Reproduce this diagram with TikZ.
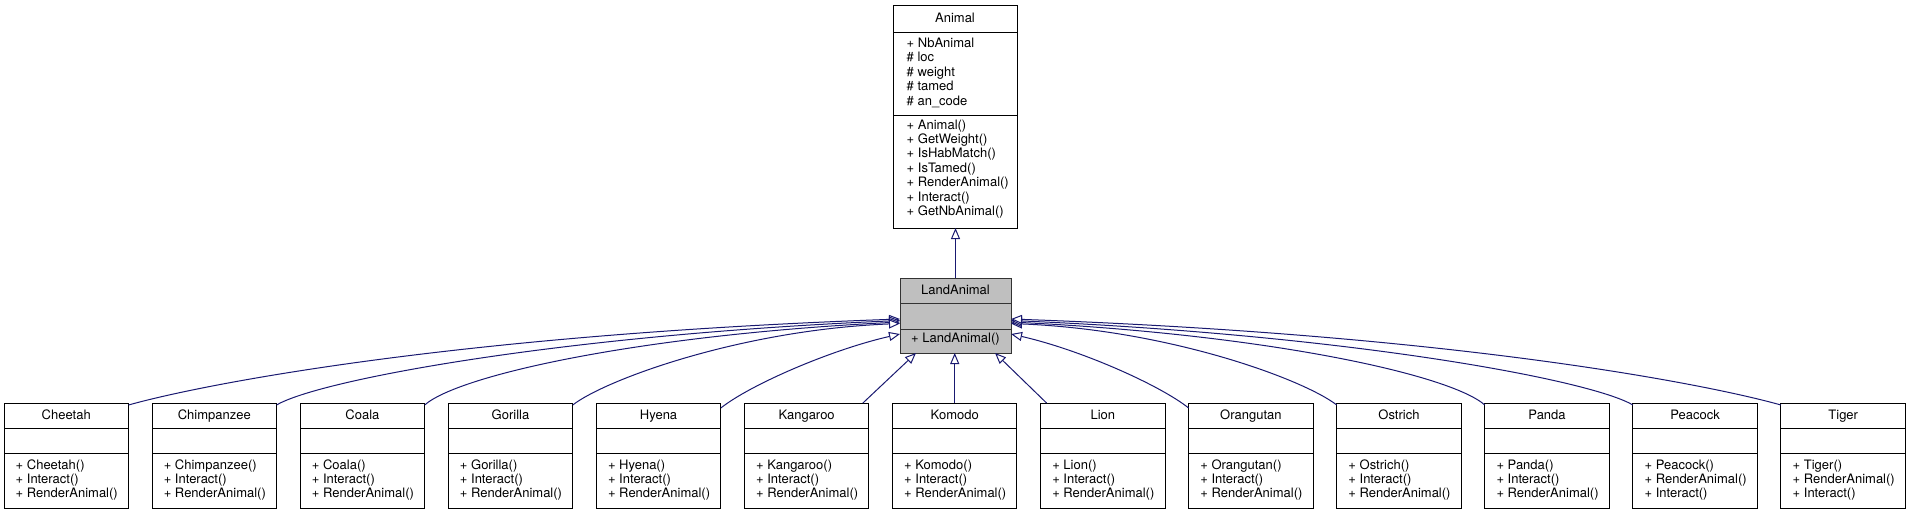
\documentclass[tikz,border=0pt]{standalone}
\usepackage{fontspec}
\setmainfont{TeX Gyre Heros}
\usetikzlibrary{arrows.meta,calc}
\definecolor{edgeblue}{HTML}{191970}
\definecolor{landgray}{HTML}{BFBFBF}
\newcommand\umlfont{\fontsize{13}{14.4}\selectfont}
\newcommand\kidbox[6]{%
  \node[cbox] (#1) at ({4+148.08*#2},403) {};
  \draw[sepline] ($(#1.north west)+(0,25)$) -- ($(#1.north east)+(0,25)$);
  \draw[sepline] ($(#1.north west)+(0,50)$) -- ($(#1.north east)+(0,50)$);
  \node[ttl] (#1-t) at ($(#1.north)+(0,16.5)$) {#3};
  \node[mem] (#1-a) at ($(#1.north west)+(11.5,66)$) {#4};
  \node[mem] (#1-b) at ($(#1.north west)+(11.5,80.3)$) {#5};
  \node[mem] (#1-c) at ($(#1.north west)+(11.5,94.6)$) {#6};
}
\begin{document}
\begin{tikzpicture}[x=1pt,y=-1pt,
  cbox/.style={draw=black, line width=1pt, rectangle, fill=white, outer sep=0pt, inner sep=0pt,
    minimum width=124.5pt, minimum height=105pt, anchor=north west},
  sepline/.style={draw=black, line width=1pt},
  ttl/.style={anchor=base, inner sep=0pt, font=\umlfont},
  mem/.style={anchor=base west, inner sep=0pt, font=\umlfont},
  inh/.style={draw=edgeblue, line width=1pt, -{Triangle[length=11pt,width=9pt,fill=white]}}]
\useasboundingbox (0,0) rectangle (1911,515);

% Animal
\node[cbox, minimum width=124pt, minimum height=223pt] (animal) at (893,5) {};
\draw[sepline] ($(animal.north west)+(0,27)$) -- ($(animal.north east)+(0,27)$);
\draw[sepline] ($(animal.north west)+(0,110)$) -- ($(animal.north east)+(0,110)$);
\node[ttl] (animal-t) at ($(animal.north)+(0,17.5)$) {Animal};
\node[mem] (animal-a1) at ($(animal.north west)+(13.5,42.3)$) {+ NbAnimal};
\node[mem] (animal-a2) at ($(animal.north west)+(13.5,56.75)$) {\# loc};
\node[mem] (animal-a3) at ($(animal.north west)+(13.5,71.2)$) {\# weight};
\node[mem] (animal-a4) at ($(animal.north west)+(13.5,85.65)$) {\# tamed};
\node[mem] (animal-a5) at ($(animal.north west)+(13.5,100.1)$) {\# an\_code};
\node[mem] (animal-m1) at ($(animal.north west)+(13.5,124)$) {+ Animal()};
\node[mem] (animal-m2) at ($(animal.north west)+(13.5,138.4)$) {+ GetWeight()};
\node[mem] (animal-m3) at ($(animal.north west)+(13.5,152.8)$) {+ IsHabMatch()};
\node[mem] (animal-m4) at ($(animal.north west)+(13.5,167.2)$) {+ IsTamed()};
\node[mem] (animal-m5) at ($(animal.north west)+(13.5,181.6)$) {+ RenderAnimal()};
\node[mem] (animal-m6) at ($(animal.north west)+(13.5,196)$) {+ Interact()};
\node[mem] (animal-m7) at ($(animal.north west)+(13.5,210.4)$) {+ GetNbAnimal()};

% LandAnimal
\node[cbox, fill=landgray, draw=black!80, minimum width=111pt, minimum height=75pt] (land) at (900,278) {};
\draw[sepline, draw=black!80] ($(land.north west)+(0,25)$) -- ($(land.north east)+(0,25)$);
\draw[sepline, draw=black!80] ($(land.north west)+(0,51)$) -- ($(land.north east)+(0,51)$);
\node[ttl] (land-t) at ($(land.north)+(0,16.3)$) {LandAnimal};
\node[mem] (land-m1) at ($(land.north west)+(11,64.3)$) {+ LandAnimal()};

% children
\kidbox{cheetah}{0}{Cheetah}{+ Cheetah()}{+ Interact()}{+ RenderAnimal()}
\kidbox{chimp}{1}{Chimpanzee}{+ Chimpanzee()}{+ Interact()}{+ RenderAnimal()}
\kidbox{coala}{2}{Coala}{+ Coala()}{+ Interact()}{+ RenderAnimal()}
\kidbox{gorilla}{3}{Gorilla}{+ Gorilla()}{+ Interact()}{+ RenderAnimal()}
\kidbox{hyena}{4}{Hyena}{+ Hyena()}{+ Interact()}{+ RenderAnimal()}
\kidbox{kangaroo}{5}{Kangaroo}{+ Kangaroo()}{+ Interact()}{+ RenderAnimal()}
\kidbox{komodo}{6}{Komodo}{+ Komodo()}{+ Interact()}{+ RenderAnimal()}
\kidbox{lion}{7}{Lion}{+ Lion()}{+ Interact()}{+ RenderAnimal()}
\kidbox{orangutan}{8}{Orangutan}{+ Orangutan()}{+ Interact()}{+ RenderAnimal()}
\kidbox{ostrich}{9}{Ostrich}{+ Ostrich()}{+ Interact()}{+ RenderAnimal()}
\kidbox{panda}{10}{Panda}{+ Panda()}{+ Interact()}{+ RenderAnimal()}
\kidbox{peacock}{11}{Peacock}{+ Peacock()}{+ RenderAnimal()}{+ Interact()}
\kidbox{tiger}{12}{Tiger}{+ Tiger()}{+ RenderAnimal()}{+ Interact()}

% inheritance edges
\draw[inh] (land.north) -- (land.north |- animal.south);

\draw[inh] ($(cheetah.north east)+(0,2)$) .. controls +(71,-20) and +(-450,16) .. ($(land.north west)+(0,41)$);
\draw[inh] ($(chimp.north east)+(0,2)$) .. controls +(42,-25) and +(-340,14.5) .. ($(land.north west)+(0,42.5)$);
\draw[inh] ($(coala.north east)+(0,2)$) .. controls +(34,-30) and +(-260,13) .. ($(land.north west)+(0,44)$);
\draw[inh] ($(gorilla.north east)+(0,2)$) .. controls +(32,-25) and +(-160,6.5) .. ($(land.north west)+(0,45.5)$);
\draw[inh] ($(hyena.north east)+(0,5)$) .. controls +(29,-23) and +(-70,16) .. ($(land.north west)+(0,56)$);
\draw[inh] ($(kangaroo.north east)+(-6,0)$) -- ($(land.south west)+(16,0)$);
\draw[inh] (komodo.north) -- (komodo.north |- land.south);
\draw[inh] ($(lion.north west)+(6,0)$) -- ($(land.south east)+(-16,0)$);
\draw[inh] ($(orangutan.north west)+(0,5)$) .. controls +(-29,-23) and +(70,16) .. ($(land.north east)+(0,56)$);
\draw[inh] ($(ostrich.north west)+(0,2)$) .. controls +(-32,-25) and +(160,6.5) .. ($(land.north east)+(0,45.5)$);
\draw[inh] ($(panda.north west)+(0,2)$) .. controls +(-34,-30) and +(260,13) .. ($(land.north east)+(0,44)$);
\draw[inh] ($(peacock.north west)+(0,2)$) .. controls +(-42,-25) and +(340,14.5) .. ($(land.north east)+(0,42.5)$);
\draw[inh] ($(tiger.north west)+(0,2)$) .. controls +(-71,-20) and +(450,16) .. ($(land.north east)+(0,41)$);
\end{tikzpicture}
\end{document}
